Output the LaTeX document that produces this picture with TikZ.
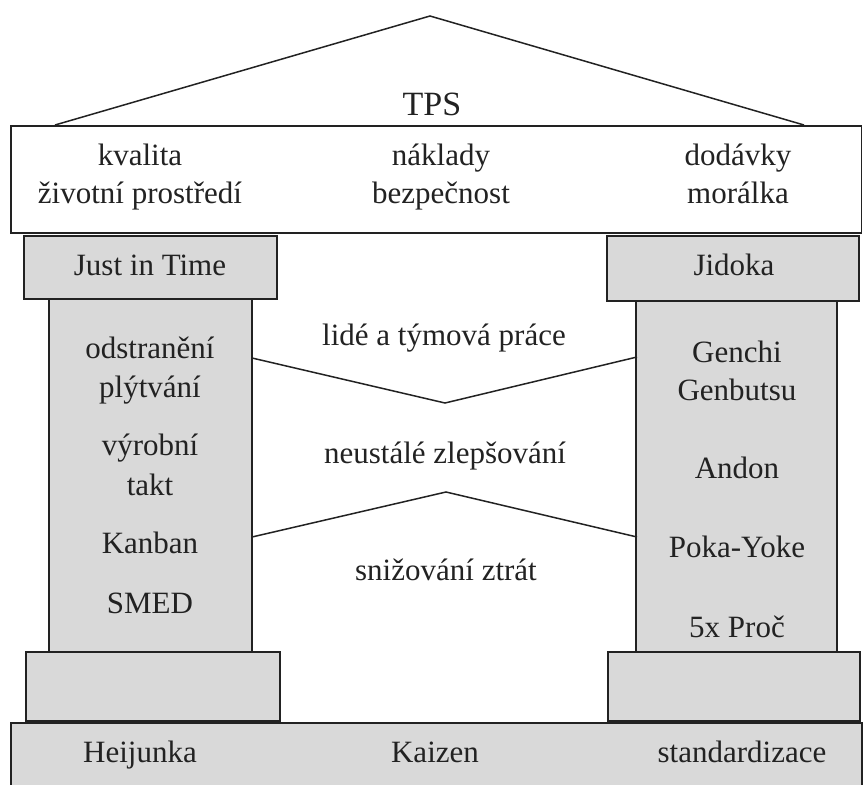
\documentclass[tikz,border=0pt]{standalone}
\usepackage{fontspec}
\setmainfont{Liberation Serif}
\definecolor{pillar}{HTML}{D9D9D9}
\definecolor{ink}{HTML}{222222}
\begin{document}
\begin{tikzpicture}[x=1pt,y=-1pt,
  part/.style={draw=ink, line width=1.6pt, fill=pillar},
  edge/.style={draw=ink, line width=1.5pt, line join=miter},
  lbl/.style={font=\fontsize{31}{36}\selectfont, text=ink, anchor=base, inner sep=0pt},
  big/.style={font=\fontsize{34}{40}\selectfont, text=ink, anchor=base, inner sep=0pt}]
\useasboundingbox (0,0) rectangle (863,785);
\clip (0,0) rectangle (863,785);

% roof
\coordinate (roofL) at (55,125);
\coordinate (apex) at (430,16);
\coordinate (roofR) at (804,125);
\draw[edge] (roofL) -- (apex) -- (roofR);
\node[big] (tps) at (432,115) {TPS};

% architrave with the goals
\draw[part, fill=white] (11,126) rectangle (861.5,233);
\node[lbl] (g1a) at (140,165) {kvalita};
\node[lbl] (g1b) at (140,203) {životní prostředí};
\node[lbl] (g2a) at (441,165) {náklady};
\node[lbl] (g2b) at (441,203) {bezpečnost};
\node[lbl] (g3a) at (738,165) {dodávky};
\node[lbl] (g3b) at (738,203) {morálka};

% left pillar
\draw[part] (24,236) rectangle (277,299);
\draw[part] (49,299) rectangle (252,652);
\draw[part] (26,652) rectangle (280,721);
\node[lbl] (jit) at (150,275) {Just in Time};
\node[lbl] (l1a) at (150,358) {odstranění};
\node[lbl] (l1b) at (150,397) {plýtvání};
\node[lbl] (l2a) at (150,455) {výrobní};
\node[lbl] (l2b) at (150,495) {takt};
\node[lbl] (l3) at (150,553) {Kanban};
\node[lbl] (l4) at (150,613) {SMED};

% right pillar
\draw[part] (607,236) rectangle (859,301);
\draw[part] (636,301) rectangle (837,652);
\draw[part] (608,652) rectangle (860,721);
\node[lbl] (jid) at (734,275) {Jidoka};
\node[lbl] (r1a) at (737,362) {Genchi};
\node[lbl] (r1b) at (737,400) {Genbutsu};
\node[lbl] (r2) at (737,478) {Andon};
\node[lbl] (r3) at (737,557) {Poka-Yoke};
\node[lbl] (r4) at (737,637) {5x Proč};

% foundation
\draw[part] (11,723) rectangle (862,800);
\node[lbl] (f1) at (140,762) {Heijunka};
\node[lbl] (f2) at (435,762) {Kaizen};
\node[lbl] (f3) at (742,762) {standardizace};

% middle band between the pillars
\coordinate (za) at (252,358);
\coordinate (zb) at (445,403);
\coordinate (zc) at (637,357);
\coordinate (zd) at (252,537);
\coordinate (ze) at (446,492);
\coordinate (zf) at (637,537);
\draw[edge] (za) -- (zb) -- (zc);
\draw[edge] (zd) -- (ze) -- (zf);
\node[lbl] (m1) at (444,345) {lidé a týmová práce};
\node[lbl] (m2) at (445,463) {neustálé zlepšování};
\node[lbl] (m3) at (446,580) {snižování ztrát};
\end{tikzpicture}
\end{document}
